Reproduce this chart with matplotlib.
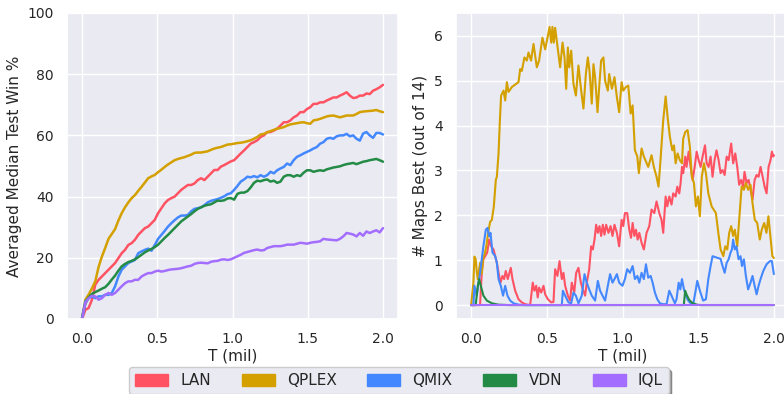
import numpy as np
import matplotlib
matplotlib.use("Agg")
import matplotlib.pyplot as plt
import seaborn as sns
from matplotlib.patches import Patch

sns.set_theme(style="darkgrid")
plt.rcParams['font.family'] = ['DejaVu Sans']

methods = ["LAN", "QPLEX", "QMIX", "VDN", "IQL"]
colors = ["#FF5263", "#D4A000", "#4488FF", "#238B45", "#A36EFF"]

# ---- Left panel: averaged median test win % ----
T_left = np.linspace(0, 2.0, 92)
win_lan = [0, 3.0, 3.6, 6.3, 11.2, 12.8, 13.9, 15.0, 16.1, 17.2, 18.3, 19.9, 21.5, 22.6, 24.2, 24.8,
           25.9, 27.5, 28.6, 29.7, 30.2, 31.3, 32.4, 34.6, 36.2, 37.8, 38.9, 39.5, 40.0, 41.1, 42.2,
           43.0, 43.8, 43.8, 44.3, 45.4, 46.0, 45.4, 46.5, 47.6, 48.7, 48.7, 49.8, 50.3, 50.9,
           51.5, 51.9, 53.0, 54.1, 55.1, 56.2, 57.3, 57.8, 58.4, 59.5, 60.0, 61.1, 61.1, 61.6, 62.2,
           63.2, 64.3, 64.3, 64.9, 65.9, 66.5, 67.6, 67.6, 68.6, 69.2, 70.3, 70.3, 70.8, 70.8, 71.4,
           71.9, 72.4, 72.4, 73.0, 73.5, 74.1, 73.0, 72.2, 72.4, 73.0, 73.0, 73.7, 73.5, 74.6, 75.1,
           75.7, 76.5]
win_qplex = [0.3, 6.3, 8.0, 10.0, 12.3, 17.0, 20.4, 23.2, 26.2, 27.8, 29.4, 32.2, 34.6, 36.5, 38.1,
             39.5, 40.5, 41.9, 43.2, 44.6, 46.0, 46.6, 47.1, 48.0, 48.8, 49.7, 50.5, 51.2, 51.9, 52.3,
             52.6, 52.9, 53.3, 53.7, 54.3, 54.4, 54.4, 54.6, 54.8, 55.3, 55.7, 56.0, 56.2, 56.6, 57.0,
             57.1, 57.3, 57.5, 57.6, 57.8, 58.1, 58.4, 58.9, 59.5, 60.3, 60.5, 61.0, 61.4, 61.8, 62.2,
             62.4, 62.7, 63.2, 63.6, 63.8, 64.0, 64.2, 64.3, 64.0, 63.8, 64.9, 65.1, 65.4, 65.8, 66.2,
             66.4, 66.5, 66.2, 65.9, 66.2, 66.5, 66.5, 66.5, 67.0, 67.6, 67.8, 67.9, 68.0, 68.1, 68.3,
             67.9, 67.6]
win_qmix = [0.3, 5.8, 6.8, 7.4, 6.8, 7.4, 7.4, 7.9, 7.9, 8.5, 10.7, 13.9, 16.1, 17.2, 18.3, 18.8,
            19.3, 21.5, 22.1, 22.6, 23.0, 22.3, 24.2, 26.2, 27.5, 28.8, 30.2, 31.3, 32.3, 33.2, 33.8,
            33.8, 34.0, 35.2, 36.0, 36.2, 36.5, 37.2, 38.1, 38.6, 38.9, 39.2, 39.6, 40.1, 40.8,
            41.1, 42.2, 43.5, 44.9, 45.6, 46.5, 46.3, 46.7, 46.3, 47.0, 46.5, 47.0, 48.1, 47.6, 48.6,
            49.2, 49.7, 50.8, 50.3, 51.9, 53.0, 53.5, 54.1, 54.6, 55.1, 55.7, 56.2, 57.3, 57.8, 58.9,
            59.2, 58.9, 59.7, 60.0, 60.0, 60.5, 59.7, 60.0, 58.9, 58.3, 60.6, 61.1, 60.0, 59.2, 60.8,
            60.8, 60.3]
win_vdn = [0.3, 5.0, 7.1, 8.2, 8.8, 9.3, 9.9, 10.4, 11.5, 12.9, 14.2, 15.8, 17.2, 18.0, 18.6, 19.0,
           19.5, 20.2, 21.0, 21.8, 22.4, 22.9, 23.5, 24.3, 25.4, 26.5, 27.5, 28.6, 29.7, 30.8, 31.9,
           32.7, 33.5, 34.3, 35.2, 36.0, 36.5, 37.0, 37.3, 37.5, 38.1, 38.7, 38.6, 38.8, 39.4,
           39.5, 39.0, 40.9, 41.3, 41.3, 41.8, 43.0, 44.5, 45.2, 45.0, 45.4, 45.6, 44.9, 45.2, 44.5,
           44.9, 46.5, 47.0, 47.0, 46.5, 47.0, 46.7, 47.8, 48.6, 48.6, 48.1, 48.4, 48.6, 48.4, 48.9,
           49.2, 49.5, 49.7, 49.9, 50.3, 50.6, 50.8, 51.0, 50.6, 51.0, 51.4, 51.6, 51.9, 52.1, 52.3,
           51.9, 51.4]
win_iql = [0, 5.2, 6.8, 7.6, 7.4, 6.3, 6.8, 7.9, 8.5, 7.9, 8.5, 9.6, 10.7, 11.7, 12.3, 12.3, 12.8,
           12.8, 13.9, 14.5, 15.0, 15.0, 15.5, 15.8, 15.5, 15.7, 16.0, 16.2, 16.3, 16.4, 16.6, 16.9,
           17.2, 17.4, 18.0, 18.3, 18.4, 18.3, 18.2, 18.7, 18.9, 19.0, 19.4, 19.5, 19.3,
           19.5, 20.0, 20.5, 21.0, 21.6, 21.9, 22.2, 22.5, 22.7, 22.4, 22.5, 23.2, 23.5, 23.8, 23.8,
           23.8, 24.0, 24.3, 24.3, 24.3, 24.6, 24.9, 24.8, 24.6, 24.9, 25.1, 25.2, 25.4, 26.2, 26.0,
           25.9, 25.8, 25.7, 26.2, 27.0, 28.1, 27.9, 27.6, 27.0, 28.1, 27.2, 28.6, 28.1, 28.6, 29.0,
           28.3, 29.7]

# ---- Right panel: number of maps best (out of 14) ----
t_lan = [0, 0.059, 0.07, 0.081, 0.093, 0.106, 0.119, 0.132, 0.148, 0.159, 0.17, 0.185, 0.194, 0.207,
         0.218, 0.229, 0.242, 0.262, 0.273, 0.291, 0.313, 0.335, 0.357, 0.39, 0.407, 0.418, 0.43,
         0.44, 0.449, 0.463, 0.478, 0.489, 0.507, 0.529, 0.544, 0.555, 0.57, 0.584, 0.599, 0.61,
         0.621, 0.639, 0.654, 0.665, 0.681, 0.694, 0.709, 0.725, 0.738, 0.753, 0.764, 0.78, 0.793,
         0.804, 0.815, 0.826, 0.837, 0.848, 0.859, 0.87, 0.881, 0.892, 0.907, 0.921, 0.934, 0.947,
         0.963, 0.978, 0.994, 1.005, 1.016, 1.031, 1.045, 1.056, 1.067, 1.078, 1.089, 1.10, 1.111,
         1.126, 1.141, 1.159, 1.177, 1.192, 1.21, 1.225, 1.243, 1.258, 1.269, 1.285, 1.296, 1.309,
         1.324, 1.335, 1.351, 1.362, 1.375, 1.384, 1.393, 1.401, 1.415, 1.423, 1.437, 1.45, 1.463,
         1.477, 1.49, 1.503, 1.516, 1.529, 1.545, 1.556, 1.569, 1.582, 1.595, 1.608, 1.621, 1.635,
         1.648, 1.661, 1.675, 1.688, 1.701, 1.718, 1.731, 1.745, 1.758, 1.771, 1.784, 1.797, 1.806,
         1.82, 1.833, 1.846, 1.859, 1.873, 1.886, 1.899, 1.912, 1.926, 1.939, 1.952, 1.965, 1.978,
         1.987, 1.996, 2.0]
best_lan = [0, 0, 0.72, 1.02, 1.09, 1.17, 1.46, 1.31, 1.24, 1.09, 0.94, 0.65, 0.50, 0.65, 0.58, 0.76,
            0.58, 0.83, 0.58, 0.32, 0.13, 0.06, 0.02, 0.0, 0.50, 0.32, 0.43, 0.17, 0.39, 0.28, 0.43,
            0.24, 0.13, 0.06, 0.07, 0.80, 0.65, 0.98, 0.58, 0.72, 0.43, 0.21, 0.10, 0.50, 0.28, 0.72,
            0.83, 0.50, 0.35, 0.21, 0.50, 0.80, 1.31, 1.24, 1.46, 1.79, 1.61, 1.76, 1.54, 1.79, 1.57,
            1.79, 1.61, 1.76, 1.54, 1.79, 1.61, 1.31, 1.90, 1.76, 2.05, 2.05, 1.68, 1.50, 1.83, 1.54,
            1.68, 1.46, 1.61, 1.39, 1.24, 1.61, 1.76, 2.13, 2.05, 2.31, 2.05, 1.90, 1.61, 2.42, 2.20,
            2.42, 2.24, 2.49, 2.42, 2.64, 2.49, 2.72, 3.08, 2.94, 3.31, 3.08, 3.42, 3.08, 2.79, 3.08,
            3.42, 3.23, 3.08, 3.31, 3.56, 3.16, 3.08, 3.31, 2.86, 3.23, 3.45, 3.23, 2.94, 3.01, 2.90,
            3.31, 3.23, 3.60, 3.16, 3.38, 3.08, 2.68, 2.79, 2.64, 2.97, 2.72, 2.79, 2.57, 2.35, 2.79,
            2.90, 2.86, 3.08, 2.86, 2.64, 2.49, 3.08, 3.23, 3.42, 3.31, 3.34]

t_qplex = [0, 0.015, 0.022, 0.03, 0.037, 0.044, 0.055, 0.062, 0.07, 0.08, 0.09, 0.1, 0.112, 0.125,
           0.137, 0.15, 0.163, 0.17, 0.181, 0.19, 0.198, 0.214, 0.225, 0.236, 0.247, 0.269, 0.313,
           0.324, 0.335, 0.352, 0.368, 0.379, 0.396, 0.412, 0.434, 0.449, 0.471, 0.489, 0.507, 0.518,
           0.529, 0.537, 0.546, 0.555, 0.573, 0.588, 0.604, 0.617, 0.628, 0.639, 0.648, 0.661, 0.676,
           0.692, 0.709, 0.727, 0.742, 0.758, 0.771, 0.782, 0.797, 0.808, 0.819, 0.835, 0.846, 0.859,
           0.874, 0.885, 0.903, 0.912, 0.93, 0.947, 0.963, 0.978, 0.994, 1.005, 1.022, 1.038, 1.054,
           1.067, 1.082, 1.098, 1.108, 1.126, 1.141, 1.17, 1.192, 1.207, 1.225, 1.238, 1.251, 1.269,
           1.285, 1.298, 1.313, 1.329, 1.34, 1.351, 1.364, 1.379, 1.393, 1.401, 1.415, 1.43, 1.445,
           1.458, 1.472, 1.485, 1.498, 1.511, 1.524, 1.538, 1.551, 1.567, 1.589, 1.617, 1.633, 1.648,
           1.666, 1.679, 1.692, 1.705, 1.718, 1.731, 1.742, 1.758, 1.771, 1.787, 1.802, 1.815, 1.83,
           1.846, 1.859, 1.874, 1.89, 1.907, 1.92, 1.936, 1.951, 1.964, 1.977, 1.99, 2.0]
best_qplex = [0, 0.5, 1.08, 1.02, 0.75, 0.58, 0.85, 0.95, 0.7, 1.05, 1.15, 1.3, 1.6, 1.85, 1.9, 2.2,
              2.79, 2.86, 3.38, 4.12, 4.67, 4.78, 4.56, 4.97, 4.75, 4.86, 4.97, 5.26, 5.22, 5.52, 5.45,
              5.63, 5.45, 5.82, 5.30, 5.45, 5.96, 5.70, 6.0, 6.2, 5.85, 6.2, 5.85, 6.18, 5.70, 5.30,
              5.85, 5.52, 4.82, 5.74, 5.30, 5.67, 4.93, 4.67, 5.34, 4.78, 4.38, 5.15, 5.52, 5.22, 4.49,
              5.37, 5.08, 4.30, 4.86, 5.45, 5.52, 5.00, 4.78, 5.15, 4.82, 5.08, 4.63, 4.30, 4.97, 4.78,
              4.86, 4.89, 4.27, 4.45, 3.45, 3.31, 2.94, 3.49, 3.31, 3.08, 3.34, 3.08, 2.86, 2.64, 3.23,
              4.12, 4.65, 4.19, 3.75, 3.45, 3.56, 3.16, 3.38, 3.23, 3.16, 3.71, 3.86, 3.90, 3.53, 2.86,
              2.72, 2.20, 2.42, 1.98, 2.86, 3.16, 2.94, 2.49, 2.20, 2.05, 1.61, 1.24, 1.09, 1.31, 1.24,
              1.61, 1.76, 1.54, 1.68, 1.31, 1.90, 2.64, 2.57, 2.72, 2.57, 2.68, 2.27, 1.90, 1.83, 1.46,
              1.68, 1.83, 1.61, 1.98, 1.54, 1.09, 1.05]

t_qmix = [0, 0.015, 0.022, 0.037, 0.059, 0.081, 0.097, 0.108, 0.119, 0.128, 0.141, 0.159, 0.17, 0.181,
          0.196, 0.211, 0.225, 0.24, 0.258, 0.28, 0.313, 0.35, 0.599, 0.606, 0.621, 0.643, 0.661,
          0.676, 0.692, 0.709, 0.731, 0.749, 0.764, 0.78, 0.797, 0.819, 0.837, 0.852, 0.868, 0.885,
          0.903, 0.918, 0.934, 0.947, 0.963, 0.978, 1.0, 1.016, 1.031, 1.049, 1.067, 1.082, 1.098,
          1.111, 1.126, 1.141, 1.155, 1.17, 1.186, 1.199, 1.214, 1.23, 1.247, 1.269, 1.291, 1.309,
          1.324, 1.346, 1.357, 1.371, 1.382, 1.393, 1.406, 1.419, 1.434, 1.45, 1.467, 1.481, 1.494,
          1.511, 1.533, 1.551, 1.567, 1.582, 1.595, 1.621, 1.648, 1.661, 1.675, 1.688, 1.701, 1.714,
          1.723, 1.731, 1.742, 1.753, 1.767, 1.78, 1.789, 1.802, 1.815, 1.83, 1.846, 1.859, 1.873,
          1.886, 1.899, 1.912, 1.93, 1.952, 1.974, 1.987, 2.0]
best_qmix = [0, 0.0, 0.43, 0.21, 0.72, 1.31, 1.68, 1.72, 1.53, 1.61, 1.17, 1.09, 0.94, 0.58, 0.43,
             0.21, 0.43, 0.21, 0.10, 0.04, 0.01, 0.0, 0.0, 0.32, 0.21, 0.06, 0.04, 0.28, 0.21, 0.04,
             0.21, 0.69, 0.50, 0.35, 0.21, 0.10, 0.54, 0.32, 0.21, 0.10, 0.43, 0.69, 0.50, 0.58, 0.69,
             0.50, 0.43, 0.58, 0.80, 0.72, 0.87, 0.58, 0.65, 0.50, 0.72, 0.58, 0.91, 0.61, 0.65, 0.50,
             0.28, 0.13, 0.04, 0.02, 0.02, 0.32, 0.21, 0.04, 0.13, 0.50, 0.35, 0.58, 0.35, 0.21, 0.10,
             0.04, 0.02, 0.28, 0.54, 0.32, 0.10, 0.13, 0.58, 0.87, 1.09, 1.06, 1.03, 0.87, 0.72, 0.94,
             1.02, 1.17, 1.24, 1.46, 1.24, 1.31, 1.02, 1.09, 0.87, 1.02, 0.65, 0.35, 0.50, 0.65, 0.43,
             0.24, 0.43, 0.58, 0.76, 0.91, 0.98, 0.98, 0.69]

t_vdn = [0, 0.03, 0.044, 0.053, 0.064, 0.081, 0.104, 0.137, 0.18, 0.25, 1.405, 1.414, 1.425, 1.44,
         1.46, 1.49, 1.52, 2.0]
best_vdn = [0, 0, 0.43, 0.58, 0.43, 0.21, 0.10, 0.04, 0.01, 0, 0, 0.32, 0.22, 0.12, 0.05, 0.01, 0, 0]

t_iql = [0, 2.0]
best_iql = [0, 0]

left_series = [win_lan, win_qplex, win_qmix, win_vdn, win_iql]
right_series = [(t_lan, best_lan), (t_qplex, best_qplex), (t_qmix, best_qmix),
                (t_vdn, best_vdn), (t_iql, best_iql)]

fig = plt.figure(figsize=(7.84, 3.94), dpi=100)
ax1 = fig.add_axes([67 / 784, 1 - 319 / 394, 331 / 784, 306 / 394])
ax2 = fig.add_axes([456 / 784, 1 - 319 / 394, 333 / 784, 306 / 394])

for vals, c in zip(left_series, colors):
    ax1.plot(T_left, vals, color=c, lw=1.8)
for (t, v), c in zip(right_series, colors):
    ax2.plot(t, v, color=c, lw=1.5)

ax1.set_ylim(0, 100)
ax1.set_yticks([0, 20, 40, 60, 80, 100])
for ax in (ax1, ax2):
    ax.set_xticks([0.0, 0.5, 1.0, 1.5, 2.0])
    ax.tick_params(labelsize=10, colors='#262626')
    ax.set_xlabel("T (mil)", fontsize=11, labelpad=2)
ax2.set_yticks([0, 1, 2, 3, 4, 5, 6])
ax1.set_ylabel("Averaged Median Test Win %", fontsize=11)
ax2.set_ylabel("# Maps Best (out of 14)", fontsize=11)

handles = [Patch(facecolor=c, edgecolor=c, label=m) for m, c in zip(methods, colors)]
fig.legend(handles=handles, loc='upper center', bbox_to_anchor=(399 / 784, 1 - 359.5 / 394),
           ncol=5, fontsize=11, frameon=True, shadow=True, facecolor='#EAEAF2',
           edgecolor='#CCCCCC', handlelength=2.16, handleheight=0.8)

fig.savefig("out.png", dpi=100)
